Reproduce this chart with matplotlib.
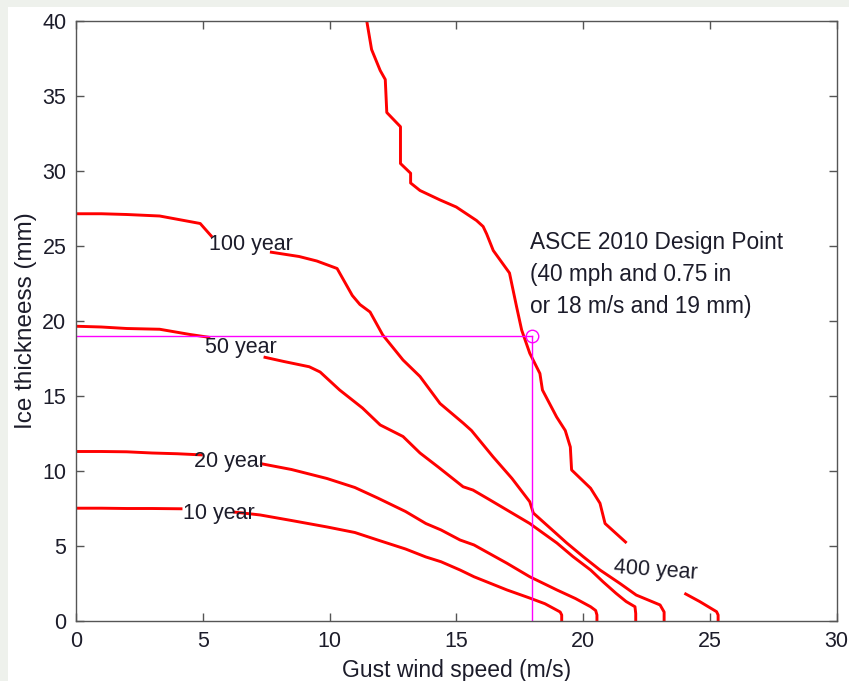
import matplotlib
matplotlib.use("Agg")
import matplotlib.pyplot as plt
from matplotlib.patches import Rectangle

plt.rcParams['font.family'] = ['Liberation Sans', 'DejaVu Sans']

# ---- data (gust wind speed m/s, ice thickness mm) ----
ten_a_x = [0, 1, 2, 3, 4.2]
ten_a_y = [7.52, 7.52, 7.5, 7.5, 7.48]
ten_b_x = [6.2, 7.26, 8.5, 9.9, 11.0, 11.9, 13.0, 13.8, 14.4, 15.15, 15.7, 17.0, 17.9, 18.5, 18.96, 19.1, 19.16, 19.16]
ten_b_y = [7.27, 7.07, 6.7, 6.27, 5.9, 5.4, 4.8, 4.27, 3.95, 3.4, 2.95, 2.07, 1.53, 1.15, 0.73, 0.6, 0.4, 0]

twenty_a_x = [0, 1, 2, 3, 4, 5.0]
twenty_a_y = [11.3, 11.3, 11.28, 11.2, 11.15, 11.07]
twenty_b_x = [7.26, 8.5, 9.9, 11.0, 11.9, 13.0, 13.8, 14.4, 15.15, 15.7, 17.0, 17.9, 18.97, 19.7, 20.3, 20.5, 20.55, 20.55]
twenty_b_y = [10.5, 10.1, 9.5, 8.9, 8.2, 7.3, 6.5, 6.07, 5.4, 5.07, 3.85, 2.95, 2.07, 1.5, 0.95, 0.7, 0.4, 0]

fifty_a_x = [0, 1, 2, 3.3, 4.5, 5.3]
fifty_a_y = [19.65, 19.6, 19.5, 19.45, 19.1, 18.9]
fifty_b_x = [7.4, 8.2, 9.2, 9.63, 10.4, 11.3, 12.0, 12.9, 13.57, 14.3, 15.27, 15.66, 16.3, 17.0, 17.9, 18.97, 19.6, 20.3, 20.8, 21.3, 21.7, 22.05, 22.08, 22.08]
fifty_b_y = [17.6, 17.3, 16.95, 16.6, 15.4, 14.2, 13.07, 12.3, 11.2, 10.25, 8.95, 8.73, 8.1, 7.4, 6.5, 5.2, 4.3, 3.4, 2.6, 1.85, 1.3, 0.95, 0.5, 0]

hundred_a_x = [0, 1, 2, 3.3, 4.9, 5.37]
hundred_a_y = [27.15, 27.15, 27.1, 27.0, 26.5, 25.6]
hundred_b_x = [7.65, 8.8, 9.5, 10.3, 10.6, 10.9, 11.2, 11.6, 12.1, 12.9, 13.57, 14.36, 15.27, 15.6, 16.45, 17.2, 17.9, 18.04, 18.7, 19.36, 20.0, 20.67, 21.46, 22.1, 23.04, 23.2, 23.2]
hundred_b_y = [24.6, 24.3, 24.0, 23.5, 22.6, 21.7, 21.1, 20.6, 19.07, 17.4, 16.3, 14.5, 13.2, 12.7, 10.95, 9.5, 7.95, 7.2, 6.2, 5.2, 4.3, 3.4, 2.5, 1.73, 1.07, 0.6, 0]

four_a_x = [11.47, 11.66, 12.0, 12.2, 12.26, 12.8, 12.8, 13.2, 13.2, 13.57, 14.36, 15.0, 15.8, 16.06, 16.2, 16.46, 17.1, 17.38, 17.58, 17.9, 18.3, 18.4, 18.96, 19.3, 19.5, 19.55, 20.3, 20.67, 20.87, 21.72]
four_a_y = [40, 38.1, 36.7, 36.1, 33.9, 32.95, 30.5, 29.85, 29.2, 28.7, 28.07, 27.6, 26.7, 26.3, 25.8, 24.7, 23.2, 20.95, 19.4, 17.85, 16.5, 15.4, 13.6, 12.7, 11.6, 10.07, 8.85, 7.85, 6.5, 5.2]
four_b_x = [24.0, 24.6, 25.27, 25.33, 25.33]
four_b_y = [1.85, 1.3, 0.62, 0.4, 0]

design_x = 18
design_y = 19

labels = ["10 year", "20 year", "50 year", "100 year", "400 year"]
label_x = [5.64, 6.07, 6.49, 6.92, 22.88]
label_y = [7.2, 10.62, 18.2, 25.07, 3.4]

xticks = [0, 5, 10, 15, 20, 25, 30]
yticks = [0, 5, 10, 15, 20, 25, 30, 35, 40]

# ---- figure ----
fig = plt.figure(figsize=(8.49, 6.81), dpi=100, facecolor='#eef1ec')
fig.patches.append(Rectangle((8 / 849, 0), 1, 1 - 7 / 681, transform=fig.transFigure,
                             facecolor='white', edgecolor='none', zorder=-5))
ax = fig.add_axes([76 / 849, 1 - 621 / 681, (836.5 - 76) / 849, 600 / 681])
ax.set_zorder(2)

red = '#ff0000'
lw = 2.1
for xs, ys in [(ten_a_x, ten_a_y), (ten_b_x, ten_b_y),
               (twenty_a_x, twenty_a_y), (twenty_b_x, twenty_b_y),
               (fifty_a_x, fifty_a_y), (fifty_b_x, fifty_b_y),
               (hundred_a_x, hundred_a_y), (hundred_b_x, hundred_b_y),
               (four_a_x, four_a_y), (four_b_x, four_b_y)]:
    ax.plot(xs, ys, color=red, lw=lw, solid_capstyle='butt', clip_on=True)

mag = '#ff00ff'
ax.plot([0, design_x], [design_y, design_y], color=mag, lw=1.0)
ax.plot([design_x, design_x], [0, design_y], color=mag, lw=1.0)
ax.plot([design_x], [design_y], marker='o', ms=9, mfc='none', mec=mag, mew=1.0)

tcol = '#1c1c2a'
fs = 15.5
for lab, lx, ly in zip(labels, label_x, label_y):
    rot = -4 if lab.startswith("400") else 0
    ax.text(lx, ly, lab, ha='center', va='center', fontsize=fs, color=tcol, rotation=rot, zorder=5)

ax.text(17.9, 26.0, "ASCE 2010 Design Point\n(40 mph and 0.75 in\nor 18 m/s and 19 mm)",
        ha='left', va='top', fontsize=16.3, color=tcol, linespacing=1.5)

ax.set_xlim(0, 30)
ax.set_ylim(0, 40)
ax.set_xticks(xticks)
ax.set_yticks(yticks)
ax.tick_params(direction='in', top=True, right=True, length=6, width=1, color='#555555',
               labelsize=fs, labelcolor=tcol, pad=7)
for s in ax.spines.values():
    s.set_color('#555555')
    s.set_linewidth(1.0)

ax.set_xlabel("Gust wind speed (m/s)", fontsize=16.5, color=tcol, labelpad=5)
ax.set_ylabel("Ice thickneess (mm)", fontsize=17.5, color=tcol, labelpad=4)

fig.savefig("out.png", dpi=100, facecolor=fig.get_facecolor())
